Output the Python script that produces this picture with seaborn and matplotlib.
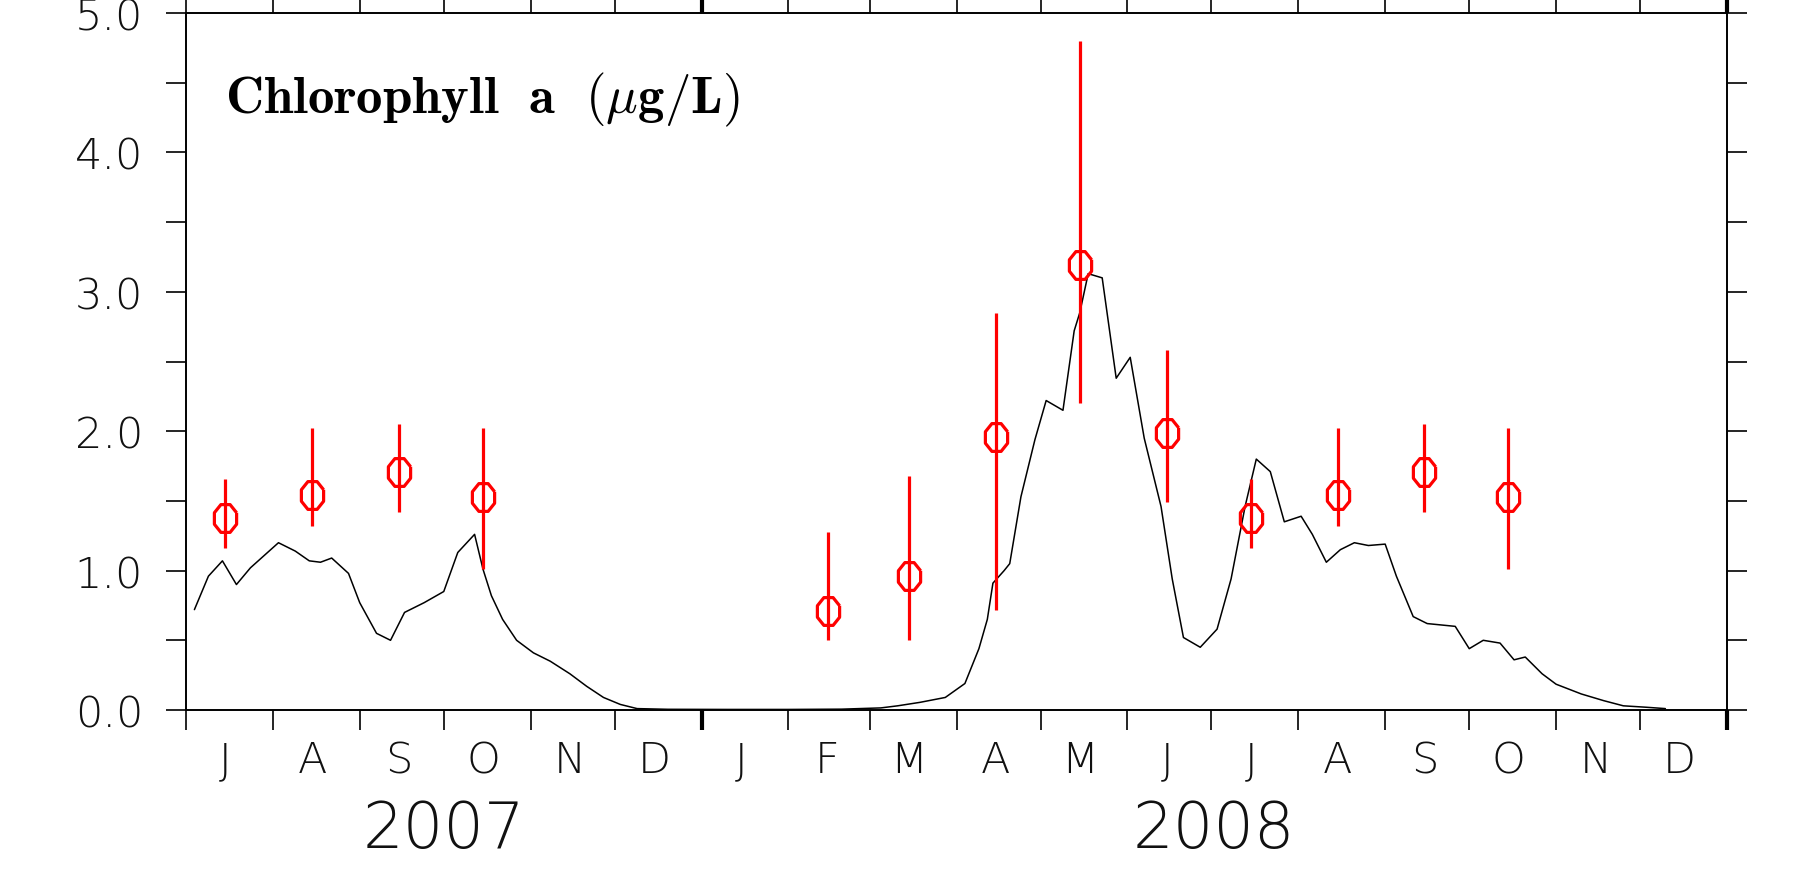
import numpy as np
import pandas as pd
import matplotlib
matplotlib.use('Agg')
import matplotlib.pyplot as plt
import matplotlib.transforms as mtransforms
import seaborn as sns

# Model chlorophyll time series (black line)
model_dates = [
    '2007-07-04', '2007-07-09', '2007-07-14', '2007-07-19', '2007-07-24', '2007-07-29',
    '2007-08-03', '2007-08-09', '2007-08-14', '2007-08-18', '2007-08-22', '2007-08-28',
    '2007-09-01', '2007-09-07', '2007-09-12', '2007-09-17', '2007-09-24', '2007-10-01',
    '2007-10-06', '2007-10-12', '2007-10-15', '2007-10-18', '2007-10-22', '2007-10-27',
    '2007-11-02', '2007-11-08', '2007-11-15', '2007-11-21', '2007-11-27', '2007-12-03',
    '2007-12-09', '2007-12-20', '2008-01-10', '2008-02-01', '2008-02-20', '2008-03-05',
    '2008-03-11', '2008-03-19', '2008-03-28', '2008-04-04', '2008-04-09', '2008-04-12',
    '2008-04-14', '2008-04-18', '2008-04-20', '2008-04-24', '2008-04-29', '2008-05-03',
    '2008-05-09', '2008-05-13', '2008-05-15', '2008-05-18', '2008-05-23', '2008-05-28',
    '2008-06-02', '2008-06-07', '2008-06-13', '2008-06-17', '2008-06-21', '2008-06-27',
    '2008-07-03', '2008-07-08', '2008-07-13', '2008-07-17', '2008-07-22', '2008-07-27',
    '2008-08-02', '2008-08-06', '2008-08-11', '2008-08-16', '2008-08-21', '2008-08-26',
    '2008-09-01', '2008-09-05', '2008-09-11', '2008-09-16', '2008-09-26', '2008-10-01',
    '2008-10-06', '2008-10-12', '2008-10-17', '2008-10-21', '2008-10-27', '2008-11-01',
    '2008-11-10', '2008-11-18', '2008-11-25', '2008-12-03', '2008-12-10',
]
model_chl = [
    0.72, 0.96, 1.07, 0.90, 1.02, 1.11,
    1.20, 1.14, 1.07, 1.06, 1.09, 0.98,
    0.77, 0.55, 0.50, 0.70, 0.77, 0.85,
    1.13, 1.26, 1.01, 0.82, 0.65, 0.50,
    0.41, 0.35, 0.26, 0.17, 0.09, 0.04,
    0.01, 0.005, 0.004, 0.004, 0.006, 0.015,
    0.03, 0.055, 0.09, 0.19, 0.44, 0.65,
    0.91, 1.00, 1.05, 1.53, 1.94, 2.22,
    2.15, 2.72, 2.85, 3.13, 3.10, 2.38,
    2.53, 1.95, 1.46, 0.94, 0.52, 0.45,
    0.58, 0.94, 1.46, 1.80, 1.71, 1.35,
    1.39, 1.26, 1.06, 1.15, 1.20, 1.18,
    1.19, 0.96, 0.67, 0.62, 0.60, 0.44,
    0.50, 0.48, 0.36, 0.38, 0.26, 0.185,
    0.115, 0.067, 0.03, 0.02, 0.01,
]

# Observations (red markers with ranges)
obs_dates = ['2007-07-15', '2007-08-15', '2007-09-15', '2007-10-15',
             '2008-02-15', '2008-03-15', '2008-04-15', '2008-05-15', '2008-06-15',
             '2008-07-15', '2008-08-15', '2008-09-15', '2008-10-15']
obs_chl = [1.38, 1.54, 1.71, 1.53, 0.71, 0.96, 1.96, 3.19, 1.99, 1.38, 1.54, 1.71, 1.53]
obs_high = [1.66, 2.02, 2.05, 2.02, 1.28, 1.68, 2.85, 4.80, 2.58, 1.66, 2.02, 2.05, 2.02]
obs_low = [1.16, 1.32, 1.42, 1.01, 0.50, 0.50, 0.72, 2.20, 1.49, 1.16, 1.32, 1.42, 1.01]

# Axis labels
month_letters = ['J', 'A', 'S', 'O', 'N', 'D', 'J', 'F', 'M',
                 'A', 'M', 'J', 'J', 'A', 'S', 'O', 'N', 'D']
year_labels = ['2007', '2008']
year_spans = [('2007-07-01', '2008-01-01'), ('2008-01-01', '2009-01-01')]
y_ticks = [0, 1, 2, 3, 4, 5]
y_tick_labels = ['0.0', '1.0', '2.0', '3.0', '4.0', '5.0']
title = r'$\mathbf{Chlorophyll\ \ a\ \ (}\mu\mathbf{g/L)}$'

sns.set_style('ticks')
plt.rcParams['font.family'] = ['DejaVu Sans']
plt.rcParams['mathtext.fontset'] = 'cm'

fig = plt.figure(figsize=(17.99, 8.78), dpi=100)
ax = fig.add_axes([186 / 1799, 1 - 711 / 878, 1541 / 1799, 697 / 878])

df = pd.DataFrame({'date': pd.to_datetime(model_dates), 'chl': model_chl})
sns.lineplot(data=df, x='date', y='chl', color='black', linewidth=1.1, ax=ax)

obs_x = pd.to_datetime(obs_dates)
obs_y = np.array(obs_chl)
yerr = [obs_y - np.array(obs_low), np.array(obs_high) - obs_y]
ang = np.deg2rad(22.5 + 45 * np.arange(9))
octagon = list(zip(np.cos(ang), 1.25 * np.sin(ang)))
ax.errorbar(obs_x, obs_y, yerr=yerr, fmt='none', ecolor='red', elinewidth=2.3, capsize=0, zorder=3)
ax.plot(obs_x, obs_y, linestyle='none', marker=octagon, markersize=20,
        markerfacecolor='none', markeredgecolor='red', markeredgewidth=2.3, zorder=4)

# limits
ax.set_xlim(pd.Timestamp('2007-07-01'), pd.Timestamp('2009-01-01'))
ax.set_ylim(0, 5)
ax.set_xlabel('')
ax.set_ylabel('')

# x ticks: month boundaries, labels at mid-month
month_starts = pd.date_range('2007-07-01', '2009-01-01', freq='MS')
mid_months = month_starts[:-1] + pd.Timedelta(days=14)
ax.set_xticks(month_starts)
ax.set_xticklabels([])
ax.set_xticks(mid_months, minor=True)
ax.set_xticklabels(month_letters, minor=True)
ax.tick_params(axis='x', which='major', direction='out', length=14.4, width=1.2,
               top=True, bottom=True, color='black')
ax.tick_params(axis='x', which='minor', length=0, pad=21, labelsize=31,
               top=False, labelcolor='#111111')

# y ticks
ax.set_yticks(y_ticks)
ax.set_yticklabels(y_tick_labels)
ax.yaxis.set_minor_locator(matplotlib.ticker.MultipleLocator(0.5))
ax.tick_params(axis='y', which='both', direction='out', length=14.4, width=1.2,
               left=True, right=True, color='black')
ax.tick_params(axis='y', which='major', pad=16.5, labelsize=31, labelcolor='#111111')

for lab in ax.get_xticklabels(minor=True) + ax.get_yticklabels():
    lab.set_fontweight('light')

# thicker ticks at year boundaries
for tick, loc in zip(ax.xaxis.get_major_ticks(), month_starts):
    if loc.month == 1:
        tick.tick1line.set_markeredgewidth(3.0)
        tick.tick2line.set_markeredgewidth(3.0)

for sp in ax.spines.values():
    sp.set_visible(True)
    sp.set_linewidth(1.4)
    sp.set_color('black')

# year labels under the months
trans = mtransforms.blended_transform_factory(ax.transData, ax.transAxes)
for label, (start, end) in zip(year_labels, year_spans):
    mid = pd.Timestamp(start) + (pd.Timestamp(end) - pd.Timestamp(start)) / 2
    ax.text(mid, -0.197, label, transform=trans, ha='center', va='baseline',
            fontsize=46, fontweight='light', color='#111111')

ax.text(0.025, 0.858, title, transform=ax.transAxes, ha='left', va='baseline',
        fontsize=38, color='black')

fig.savefig('out.png', dpi=100)
